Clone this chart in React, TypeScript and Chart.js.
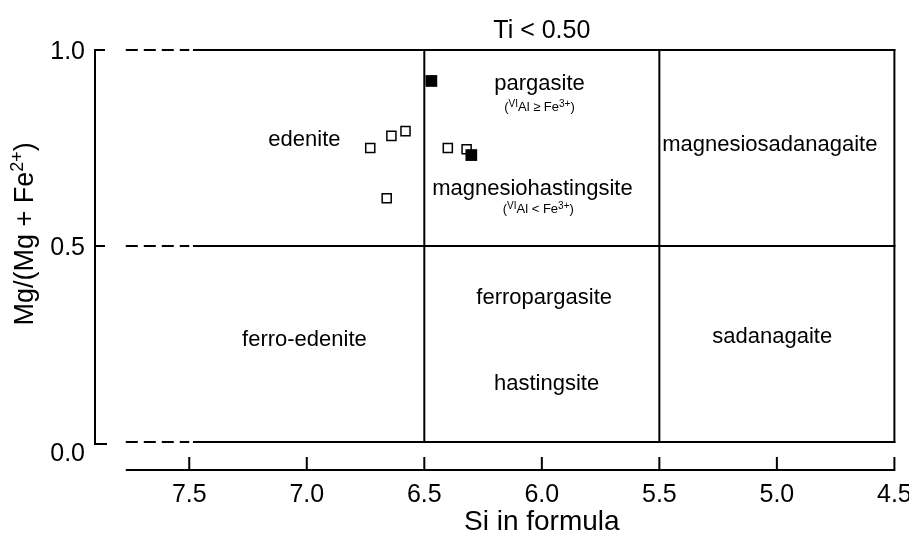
import React, { useEffect, useRef } from "react";
import { Chart, registerables } from "chart.js";

Chart.register(...registerables);

// ---- data ----
const openSi = [6.73, 6.64, 6.58, 6.66, 6.4, 6.32];
const openMg = [0.75, 0.781, 0.793, 0.622, 0.75, 0.747];
const filledSi = [6.47, 6.3];
const filledMg = [0.921, 0.732];

const xTicks = [7.5, 7.0, 6.5, 6.0, 5.5, 5.0, 4.5];
const yTicks = [1.0, 0.5, 0.0];

const verticalBoundsSi = [6.5, 5.5, 4.5];
const horizontalBoundsMg = [1.0, 0.5, 0.0];
const solidStartSi = 7.48;
const dashStartSi = 7.77;
const dashEndSi = 7.5;

const fieldNames = [
  "edenite",
  "pargasite",
  "magnesiohastingsite",
  "magnesiosadanagaite",
  "ferro-edenite",
  "ferropargasite",
  "hastingsite",
  "sadanagaite",
];
const fieldSi = [7.01, 6.01, 6.04, 5.03, 7.01, 5.99, 5.98, 5.02];
const fieldMg = [0.755, 0.898, 0.63, 0.742, 0.245, 0.352, 0.133, 0.253];

const noteSi = [6.01, 6.015];
const noteMg = [0.844, 0.584];
const noteRel = ["≥", "<"];

const titleText = "Ti < 0.50";
const xTitle = "Si in formula";

const X_MIN = 4.5;
const X_MAX = 7.901;
const Y_MIN = -0.0714;
const Y_MAX = 1.0;

const FONT = '"Liberation Sans", Arial, Helvetica, sans-serif';
const f = (s: number) => `${s}px ${FONT}`;

type Seg = [string, boolean];

function drawRich(
  ctx: CanvasRenderingContext2D,
  segs: Seg[],
  cx: number,
  y: number,
  size: number,
  supSize: number,
  rise: number
) {
  let total = 0;
  const widths = segs.map(([t, sup]) => {
    ctx.font = f(sup ? supSize : size);
    const w = ctx.measureText(t).width;
    total += w;
    return w;
  });
  let x = cx - total / 2;
  ctx.textAlign = "left";
  ctx.textBaseline = "alphabetic";
  segs.forEach(([t, sup], i) => {
    ctx.font = f(sup ? supSize : size);
    ctx.fillText(t, x, sup ? y - rise : y);
    x += widths[i];
  });
}

const decor = {
  id: "decor",
  afterDraw(chart: any) {
    const { ctx, chartArea, scales } = chart;
    const xs = scales.x;
    const ys = scales.y;
    ctx.save();
    ctx.strokeStyle = "#000";
    ctx.fillStyle = "#000";
    ctx.lineWidth = 2;

    // y axis
    const ax = chartArea.left;
    const yTop = ys.getPixelForValue(1);
    const yMid = ys.getPixelForValue(0.5);
    const yBot = ys.getPixelForValue(0);
    ctx.beginPath();
    ctx.moveTo(ax + 10, yTop);
    ctx.lineTo(ax, yTop);
    ctx.lineTo(ax, yBot + 2);
    ctx.lineTo(ax + 12, yBot + 2);
    ctx.moveTo(ax, yMid);
    ctx.lineTo(ax + 10, yMid);
    ctx.stroke();

    // x axis
    const bx = chartArea.bottom;
    ctx.beginPath();
    ctx.moveTo(xs.getPixelForValue(dashStartSi), bx);
    ctx.lineTo(xs.getPixelForValue(4.5) + 1, bx);
    xTicks.forEach((v) => {
      const px = xs.getPixelForValue(v);
      ctx.moveTo(px, bx);
      ctx.lineTo(px, bx - 13);
    });
    ctx.stroke();

    // tick labels
    ctx.font = f(25);
    ctx.textAlign = "center";
    ctx.textBaseline = "alphabetic";
    xTicks.forEach((v) => {
      ctx.fillText(v.toFixed(1), xs.getPixelForValue(v), bx + 32);
    });
    ctx.textAlign = "right";
    yTicks.forEach((v) => {
      ctx.fillText(v.toFixed(1), ax - 10, ys.getPixelForValue(v) + (v === 0 ? 19 : 9));
    });

    // x title
    ctx.font = f(28);
    ctx.textAlign = "center";
    ctx.fillText(xTitle, xs.getPixelForValue(6.0), bx + 60);

    // top title
    ctx.font = f(25);
    ctx.fillText(titleText, xs.getPixelForValue(6.0), yTop - 12.5);

    // y title (rotated)
    ctx.save();
    ctx.translate(33, ys.getPixelForValue(0.531));
    ctx.rotate(-Math.PI / 2);
    drawRich(
      ctx,
      [
        ["Mg/(Mg + Fe", false],
        ["2+", true],
        [")", false],
      ],
      0,
      0,
      27,
      18,
      10
    );
    ctx.restore();

    // field labels
    ctx.font = f(22);
    ctx.textAlign = "center";
    fieldNames.forEach((name, i) => {
      ctx.fillText(name, xs.getPixelForValue(fieldSi[i]), ys.getPixelForValue(fieldMg[i]));
    });

    // notes
    noteSi.forEach((s, i) => {
      drawRich(
        ctx,
        [
          ["(", false],
          ["VI", true],
          ["Al " + noteRel[i] + " Fe", false],
          ["3+", true],
          [")", false],
        ],
        xs.getPixelForValue(s),
        ys.getPixelForValue(noteMg[i]),
        13,
        10,
        4
      );
    });

    ctx.restore();
  },
};

export default function App() {
  const ref = useRef<HTMLCanvasElement | null>(null);

  useEffect(() => {
    if (!ref.current) return;

    const lineDs = (pts: { x: number; y: number }[], dashed = false) => ({
      data: pts,
      showLine: true,
      pointRadius: 0,
      borderColor: "#000",
      borderWidth: 2,
      borderDash: dashed ? [12, 6] : [],
      borderCapStyle: dashed ? "butt" : "square",
      clip: false,
      fill: false,
    });

    const datasets: any[] = [
      {
        label: "filled",
        data: filledSi.map((x, i) => ({ x, y: filledMg[i] })),
        pointStyle: "rect",
        pointRadius: 8.3,
        backgroundColor: "#000",
        borderColor: "#000",
        borderWidth: 0,
        clip: false,
      },
      {
        label: "open",
        data: openSi.map((x, i) => ({ x, y: openMg[i] })),
        pointStyle: "rect",
        pointRadius: 6.4,
        backgroundColor: "#fff",
        borderColor: "#000",
        borderWidth: 1.5,
        clip: false,
      },
    ];
    verticalBoundsSi.forEach((s) => {
      datasets.push(lineDs([{ x: s, y: 0 }, { x: s, y: 1 }]));
    });
    horizontalBoundsMg.forEach((m) => {
      datasets.push(lineDs([{ x: solidStartSi, y: m }, { x: 4.5, y: m }]));
      datasets.push(lineDs([{ x: dashStartSi, y: m }, { x: dashEndSi, y: m }], true));
    });

    const chart = new Chart(ref.current, {
      type: "scatter",
      data: { datasets },
      options: {
        animation: false,
        responsive: true,
        maintainAspectRatio: false,
        layout: { padding: { left: 95, right: 14.6, top: 50, bottom: 63 } },
        plugins: { legend: { display: false }, tooltip: { enabled: false } },
        events: [],
        scales: {
          x: { type: "linear", reverse: true, min: X_MIN, max: X_MAX, display: false },
          y: { type: "linear", min: Y_MIN, max: Y_MAX, display: false },
        },
      } as any,
      plugins: [decor],
    });
    return () => chart.destroy();
  }, []);

  return (
    <div style={{ position: "fixed", left: 0, top: 0, width: 909, height: 533, background: "#fff" }}>
      <canvas ref={ref} />
    </div>
  );
}
